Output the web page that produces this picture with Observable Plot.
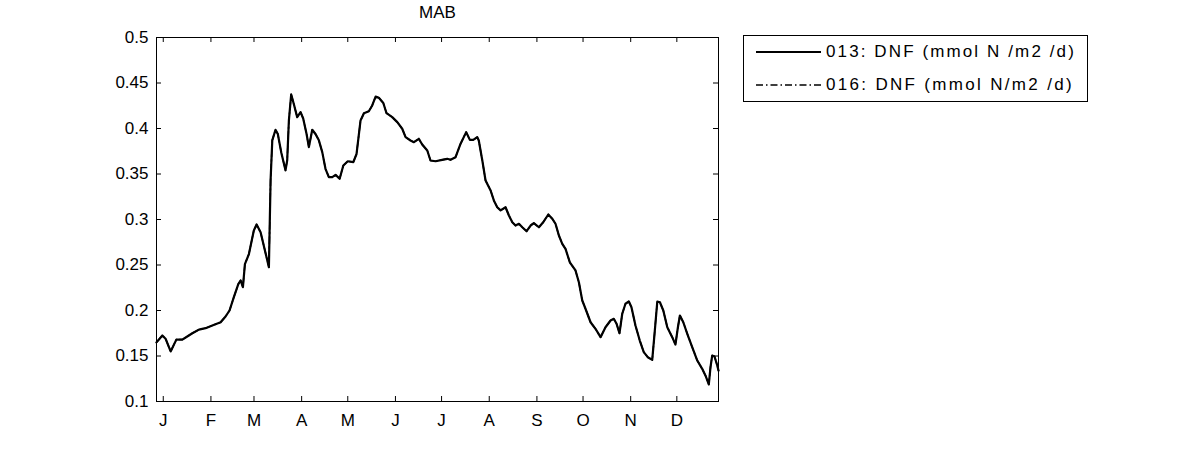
<!DOCTYPE html>
<html>
<head>
<meta charset="utf-8">
<script src="https://cdn.jsdelivr.net/npm/d3@7"></script>
<script src="https://cdn.jsdelivr.net/npm/@observablehq/plot@0.6"></script>
<style>
  html, body { margin: 0; padding: 0; background: #fff; }
  #wrap { position: relative; width: 1200px; height: 450px; font-family: "Liberation Sans", Arial, sans-serif; }
  #legend { position: absolute; left: 743px; top: 35px; width: 345px; height: 67px; box-sizing: border-box; border: 1px solid #000; background: #fff; }
  .row { position: absolute; left: 12px; height: 20px; display: flex; align-items: center; font-size: 17px; color: #000; white-space: nowrap; }
  .row svg { margin-right: 4px; }
</style>
</head>
<body>
<div id="wrap"></div>
<script>
const title = "MAB";
const seriesNames = ["013: DNF (mmol N /m2 /d)", "016: DNF (mmol N/m2 /d)"];
const monthStarts = [1, 32, 60, 91, 121, 152, 182, 213, 244, 274, 305, 335];
const monthLabels = ["J", "F", "M", "A", "M", "J", "J", "A", "S", "O", "N", "D"];
const yTicks = [0.1, 0.15, 0.2, 0.25, 0.3, 0.35, 0.4, 0.45, 0.5];

const days = [-3.4,0.4,2.5,5.8,9.5,13.4,16.6,19.9,24.2,28.5,32.9,38.3,41.5,44.1,46.9,49.8,51.3,52.8,54.1,56.7,59.9,61.7,64.3,69.7,70.8,71.9,74.0,75.5,77.7,80.5,81.6,82.7,84.2,85.9,88.1,90.3,92.0,94.2,95.7,97.9,100.0,102.2,104.4,106.5,108.7,110.9,113.1,115.7,118.1,121.0,124.6,126.7,129.3,131.5,134.7,136.9,139.1,141.2,144.1,146.2,149.9,153.2,156.4,158.6,161.8,164.0,167.2,169.4,172.7,174.8,178.1,182.4,185.7,187.8,191.1,194.3,198.0,200.4,202.6,205.2,206.2,208.5,210.6,213.9,216.0,218.2,220.4,223.6,225.8,228.0,230.1,232.3,234.5,237.3,239.9,242.0,245.3,248.1,251.4,254.0,256.1,258.3,260.5,262.6,265.4,269.1,271.3,273.5,275.6,278.9,282.1,285.4,288.6,291.9,294.0,295.8,297.7,299.5,301.6,303.8,305.5,308.1,310.9,313.5,316.1,319.0,320.5,322.3,324.0,326.2,328.8,332.0,334.1,335.7,337.0,339.2,341.8,345.0,348.3,351.5,353.6,355.8,356.9,358.0,359.5,361.3,362.1];

const dnf013 = [0.165,0.1725,0.169,0.155,0.168,0.168,0.1714,0.175,0.179,0.1806,0.1835,0.187,0.1934,0.200,0.2146,0.229,0.233,0.2256,0.251,0.262,0.288,0.2945,0.286,0.2476,0.343,0.387,0.3986,0.394,0.374,0.354,0.365,0.409,0.4374,0.427,0.4125,0.418,0.411,0.394,0.3795,0.3986,0.394,0.387,0.374,0.3557,0.3465,0.3465,0.349,0.3447,0.3593,0.364,0.363,0.372,0.4088,0.4168,0.419,0.4253,0.435,0.4337,0.428,0.4168,0.4125,0.407,0.3997,0.3905,0.3868,0.385,0.3887,0.3824,0.3758,0.3648,0.364,0.3656,0.3667,0.3656,0.3685,0.383,0.396,0.3875,0.3875,0.3905,0.3868,0.3648,0.3429,0.3319,0.321,0.3135,0.31,0.3135,0.3044,0.297,0.2934,0.2953,0.2915,0.2871,0.2934,0.296,0.2915,0.297,0.3055,0.3008,0.2953,0.2824,0.2733,0.2678,0.253,0.244,0.2311,0.211,0.2019,0.1871,0.1799,0.1707,0.1816,0.189,0.1909,0.1854,0.175,0.1964,0.2074,0.2099,0.2036,0.1835,0.167,0.1542,0.1487,0.1458,0.1744,0.2099,0.2091,0.2,0.1816,0.1707,0.1626,0.1816,0.1945,0.1871,0.1744,0.1597,0.145,0.1359,0.1286,0.1187,0.1377,0.1505,0.1495,0.1396,0.134];

// Run 016 overlays 013 (the two curves coincide in the figure)
const dnf016 = dnf013.slice();

const rows013 = days.map((d, i) => ({day: d, v: dnf013[i]}));
const rows016 = days.map((d, i) => ({day: d, v: dnf016[i]}));

const H = 450, mT = 37, mB = 49, mL = 156, mR = 482;
const innerH = H - mT - mB, innerW = 1200 - mL - mR;
const tick = 5;

const chart = Plot.plot({
  width: 1200,
  height: H,
  marginTop: mT, marginBottom: mB, marginLeft: mL, marginRight: mR,
  style: {fontFamily: "'Liberation Sans', Arial, sans-serif", fontSize: "17px", background: "#fff", color: "#000"},
  x: {domain: [-3.4, 362.1]},
  y: {domain: [0.1, 0.5]},
  marks: [
    Plot.axisX({ticks: monthStarts, tickFormat: (d) => monthLabels[monthStarts.indexOf(d)], tickSize: 0, tickPadding: 12, label: null, fontSize: 17}),
    Plot.axisY({ticks: yTicks, tickFormat: (d) => String(+d.toFixed(2)), tickSize: 0, tickPadding: 8, label: null, fontSize: 17}),
    Plot.ruleX(monthStarts, {x: (d) => d, insetTop: innerH - tick, stroke: "#000"}),
    Plot.ruleX(monthStarts, {x: (d) => d, insetBottom: innerH - tick, stroke: "#000"}),
    Plot.ruleY(yTicks, {y: (d) => d, insetRight: innerW - tick, stroke: "#000"}),
    Plot.ruleY(yTicks, {y: (d) => d, insetLeft: innerW - tick, stroke: "#000"}),
    Plot.line(rows013, {x: "day", y: "v", stroke: "#000", strokeWidth: 2.2}),
    Plot.line(rows016, {x: "day", y: "v", stroke: "#000", strokeWidth: 1.5, strokeDasharray: "7,3,1.5,3"}),
    Plot.frame({stroke: "#000"}),
    Plot.text([title], {frameAnchor: "top", lineAnchor: "middle", dy: -25, fontSize: 17, fill: "#000"})
  ]
});

const wrap = document.getElementById("wrap");
wrap.appendChild(chart);

const legend = document.createElement("div");
legend.id = "legend";
const dashes = [null, "7,3,1.5,3"];
const targetWidths = [250, 248];
wrap.appendChild(legend);
seriesNames.forEach((name, i) => {
  const row = document.createElement("div");
  row.className = "row";
  row.style.top = (6 + i * 33) + "px";
  row.innerHTML = `<svg width="66" height="20"><line x1="0" x2="65" y1="10" y2="10" stroke="#000" stroke-width="${i === 0 ? 1.8 : 1.3}" ${dashes[i] ? `stroke-dasharray="${dashes[i]}"` : ""}/></svg><span>${name}</span>`;
  legend.appendChild(row);
  const span = row.querySelector("span");
  const w = span.getBoundingClientRect().width;
  const ls = (targetWidths[i] - w) / name.length;
  if (ls > 0) span.style.letterSpacing = ls.toFixed(2) + "px";
});
</script>
</body>
</html>
